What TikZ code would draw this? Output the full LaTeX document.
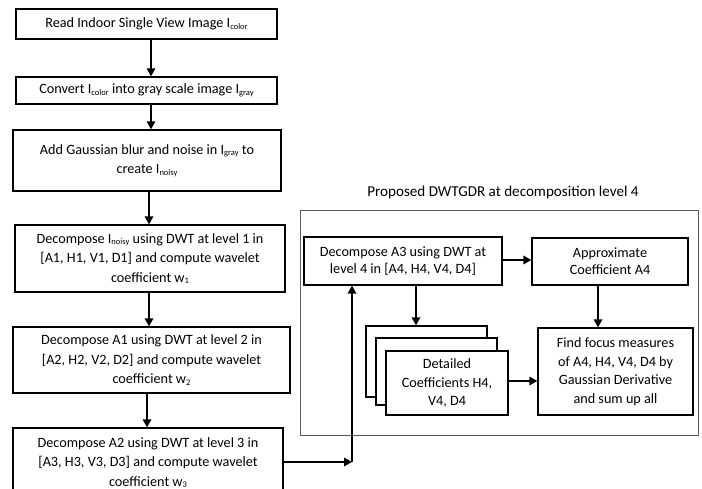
\documentclass[tikz,border=0pt]{standalone}
\usepackage{fontspec}
\setmainfont{Carlito}
\usetikzlibrary{arrows.meta}
\newcommand\sbs[1]{\raisebox{-1.8pt}{\fontsize{8.5}{9}\selectfont #1}}
\tikzset{
  box/.style={draw=black, line width=1.3pt, fill=white, rectangle, inner sep=0pt, align=center,
    font=\fontsize{14.2}{19.5}\selectfont},
  rbox/.style={box, font=\fontsize{14.2}{18.5}\selectfont},
  tbox/.style={box, font=\fontsize{14.2}{16.7}\selectfont},
  arr/.style={line width=1.7pt, -{Triangle[length=8pt,width=8.5pt]}},
  frame/.style={draw=black!65, line width=0.8pt}
}
\newcommand\bx[7]{% style, name, x1,y1,x2,y2, text
  \node[#1, minimum width={#5-#3}, minimum height={#6-#4}] (#2) at ({(#3+#5)/2},{(#4+#6)/2}) {#7};}
\begin{document}
\begin{tikzpicture}[x=1pt,y=-1pt]
\useasboundingbox (0,0) rectangle (702,489);
\clip (0,0) rectangle (702,489);
% left column
\bx{box}{b1}{16}{9}{277}{39}{Read Indoor Single View Image I\sbs{color}}
\bx{box}{b2}{16}{77}{277}{104}{Convert I\sbs{color} into gray scale image I\sbs{gray}}
\bx{box}{b3}{13}{130}{281}{191}{Add Gaussian blur and noise in I\sbs{gray} to\\create I\sbs{noisy}}
\bx{box}{b4}{15}{225}{285}{292}{Decompose I\sbs{noisy} using DWT at level 1 in\\\mbox{[A1, H1, V1, D1]} and compute wavelet\\coefficient w\sbs{1}}
\bx{box}{b5}{13}{327}{290}{393}{Decompose A1 using DWT at level 2 in\\\mbox{[A2, H2, V2, D2]} and compute wavelet\\coefficient w\sbs{2}}
\bx{box}{b6}{13}{428}{283}{497}{Decompose A2 using DWT at level 3 in\\\mbox{[A3, H3, V3, D3]} and compute wavelet\\coefficient w\sbs{3}}
% frame
\draw[frame] (300,210) rectangle (698,435);
\node[font=\fontsize{15.1}{17}\selectfont] (title) at (503,192) {Proposed DWTGDR at decomposition level 4};
% right boxes
\bx{tbox}{a3}{304}{237}{502}{285}{Decompose A3 using DWT at\\level 4 in \mbox{[A4, H4, V4, D4]}}
\bx{tbox}{ap}{532}{238}{688}{285}{Approximate\\Coefficient A4}
\bx{rbox}{s1}{366}{326}{487}{397}{}
\bx{rbox}{s2}{376}{338}{497}{405}{}
\bx{rbox}{s3}{386}{351}{508}{415}{Detailed\\Coefficients H4,\\V4, D4}
\bx{rbox}{fm}{538}{328}{693}{415}{Find focus measures\\of A4, H4, V4, D4 by\\Gaussian Derivative\\and sum up all}
% arrow columns
\coordinate (x1) at (151,0);
\coordinate (x2) at (149,0);
\coordinate (x3) at (147,0);
\coordinate (corner) at (352,462);
\draw[arr] (b1.south -| x1) -- (b2.north -| x1);
\draw[arr] (b2.south -| x1) -- (b3.north -| x1);
\draw[arr] (b3.south -| x2) -- (b4.north -| x2);
\draw[arr] (b4.south -| x2) -- (b5.north -| x2);
\draw[arr] (b5.south -| x3) -- (b6.north -| x3);
\draw[arr] (b6.east |- corner) -- (corner);
\draw[arr] (corner) -- (a3.south -| corner);
\coordinate (ya) at (0,260);
\coordinate (xd) at (416,0);
\coordinate (xf) at (598,0);
\coordinate (yd) at (0,381);
\draw[arr] (a3.east |- ya) -- (ap.west |- ya);
\draw[arr] (a3.south -| xd) -- (s1.north -| xd);
\draw[arr] (ap.south -| xf) -- (fm.north -| xf);
\draw[arr] (s3.east |- yd) -- (fm.west |- yd);
\end{tikzpicture}
\end{document}
